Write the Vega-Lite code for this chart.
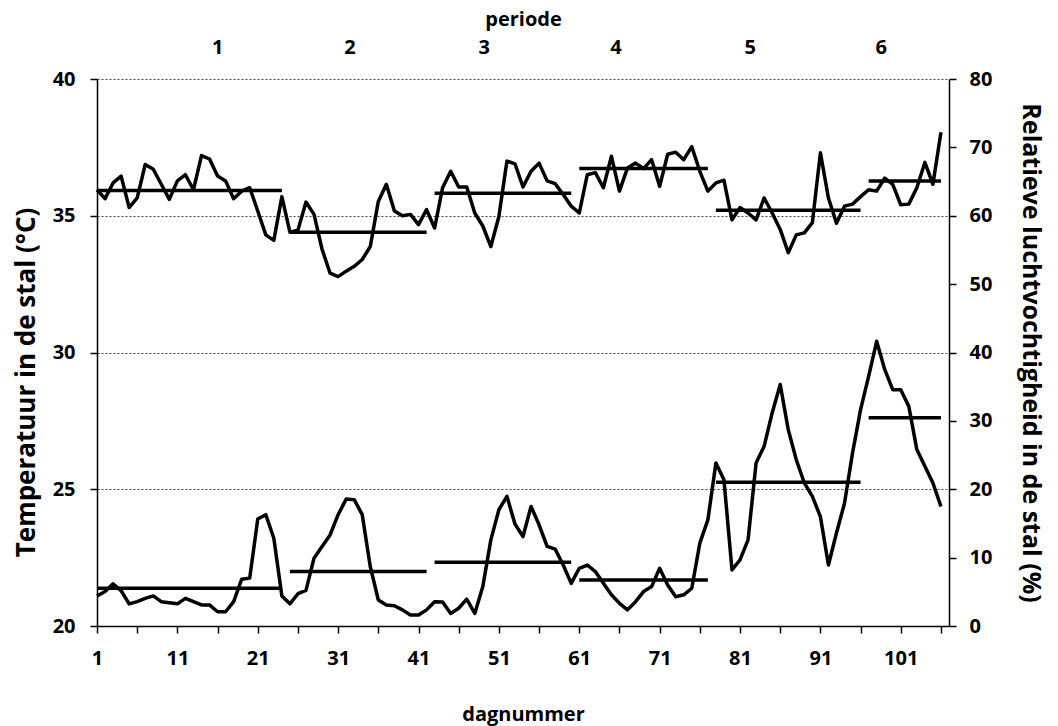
{
  "$schema": "https://vega.github.io/schema/vega-lite/v6.json",
  "width": 852,
  "height": 547,
  "autosize": {"type": "none"},
  "padding": {"left": 97, "top": 79, "right": 109, "bottom": 100},
  "background": "white",
  "config": {
    "view": {"stroke": null},
    "font": "Open Sans",
    "axis": {
      "labelFont": "Open Sans",
      "labelFontSize": 20,
      "labelFontWeight": 700,
      "labelColor": "#000",
      "titleFont": "Open Sans",
      "titleFontSize": 20,
      "titleFontWeight": 700,
      "titleColor": "#000",
      "domainColor": "#000",
      "domainWidth": 1.5,
      "tickColor": "#000",
      "tickWidth": 1.5
    }
  },
  "datasets": {
    "daily": [
      {"dag": 1, "temperatuur": 21.10, "rv": 63.8},
      {"dag": 2, "temperatuur": 21.26, "rv": 62.5},
      {"dag": 3, "temperatuur": 21.54, "rv": 64.8},
      {"dag": 4, "temperatuur": 21.29, "rv": 65.8},
      {"dag": 5, "temperatuur": 20.81, "rv": 61.2},
      {"dag": 6, "temperatuur": 20.89, "rv": 62.6},
      {"dag": 7, "temperatuur": 21.01, "rv": 67.5},
      {"dag": 8, "temperatuur": 21.10, "rv": 66.8},
      {"dag": 9, "temperatuur": 20.89, "rv": 64.6},
      {"dag": 10, "temperatuur": 20.85, "rv": 62.4},
      {"dag": 11, "temperatuur": 20.81, "rv": 65.1},
      {"dag": 12, "temperatuur": 21.01, "rv": 66.0},
      {"dag": 13, "temperatuur": 20.89, "rv": 63.8},
      {"dag": 14, "temperatuur": 20.77, "rv": 68.8},
      {"dag": 15, "temperatuur": 20.77, "rv": 68.3},
      {"dag": 16, "temperatuur": 20.52, "rv": 65.8},
      {"dag": 17, "temperatuur": 20.52, "rv": 65.1},
      {"dag": 18, "temperatuur": 20.89, "rv": 62.5},
      {"dag": 19, "temperatuur": 21.71, "rv": 63.6},
      {"dag": 20, "temperatuur": 21.75, "rv": 64.1},
      {"dag": 21, "temperatuur": 23.91, "rv": 60.7},
      {"dag": 22, "temperatuur": 24.07, "rv": 57.2},
      {"dag": 23, "temperatuur": 23.21, "rv": 56.4},
      {"dag": 24, "temperatuur": 21.10, "rv": 62.8},
      {"dag": 25, "temperatuur": 20.81, "rv": 57.6},
      {"dag": 26, "temperatuur": 21.18, "rv": 57.9},
      {"dag": 27, "temperatuur": 21.30, "rv": 62.0},
      {"dag": 28, "temperatuur": 22.48, "rv": 60.2},
      {"dag": 29, "temperatuur": 22.91, "rv": 55.1},
      {"dag": 30, "temperatuur": 23.33, "rv": 51.6},
      {"dag": 31, "temperatuur": 24.07, "rv": 51.1},
      {"dag": 32, "temperatuur": 24.64, "rv": 51.9},
      {"dag": 33, "temperatuur": 24.62, "rv": 52.6},
      {"dag": 34, "temperatuur": 24.07, "rv": 53.6},
      {"dag": 35, "temperatuur": 22.17, "rv": 55.5},
      {"dag": 36, "temperatuur": 20.95, "rv": 62.1},
      {"dag": 37, "temperatuur": 20.77, "rv": 64.6},
      {"dag": 38, "temperatuur": 20.74, "rv": 60.7},
      {"dag": 39, "temperatuur": 20.59, "rv": 60.0},
      {"dag": 40, "temperatuur": 20.40, "rv": 60.2},
      {"dag": 41, "temperatuur": 20.40, "rv": 58.7},
      {"dag": 42, "temperatuur": 20.59, "rv": 60.9},
      {"dag": 43, "temperatuur": 20.89, "rv": 58.2},
      {"dag": 44, "temperatuur": 20.88, "rv": 64.1},
      {"dag": 45, "temperatuur": 20.46, "rv": 66.5},
      {"dag": 46, "temperatuur": 20.65, "rv": 64.2},
      {"dag": 47, "temperatuur": 20.98, "rv": 64.2},
      {"dag": 48, "temperatuur": 20.46, "rv": 60.4},
      {"dag": 49, "temperatuur": 21.44, "rv": 58.5},
      {"dag": 50, "temperatuur": 23.15, "rv": 55.5},
      {"dag": 51, "temperatuur": 24.25, "rv": 59.9},
      {"dag": 52, "temperatuur": 24.74, "rv": 68.0},
      {"dag": 53, "temperatuur": 23.73, "rv": 67.6},
      {"dag": 54, "temperatuur": 23.27, "rv": 64.2},
      {"dag": 55, "temperatuur": 24.37, "rv": 66.5},
      {"dag": 56, "temperatuur": 23.70, "rv": 67.7},
      {"dag": 57, "temperatuur": 22.91, "rv": 65.1},
      {"dag": 58, "temperatuur": 22.81, "rv": 64.7},
      {"dag": 59, "temperatuur": 22.23, "rv": 63.1},
      {"dag": 60, "temperatuur": 21.56, "rv": 61.4},
      {"dag": 61, "temperatuur": 22.11, "rv": 60.4},
      {"dag": 62, "temperatuur": 22.23, "rv": 66.0},
      {"dag": 63, "temperatuur": 21.99, "rv": 66.3},
      {"dag": 64, "temperatuur": 21.56, "rv": 64.1},
      {"dag": 65, "temperatuur": 21.14, "rv": 68.7},
      {"dag": 66, "temperatuur": 20.83, "rv": 63.6},
      {"dag": 67, "temperatuur": 20.59, "rv": 67.0},
      {"dag": 68, "temperatuur": 20.89, "rv": 67.7},
      {"dag": 69, "temperatuur": 21.26, "rv": 66.9},
      {"dag": 70, "temperatuur": 21.44, "rv": 68.2},
      {"dag": 71, "temperatuur": 22.11, "rv": 64.3},
      {"dag": 72, "temperatuur": 21.50, "rv": 69.0},
      {"dag": 73, "temperatuur": 21.07, "rv": 69.3},
      {"dag": 74, "temperatuur": 21.14, "rv": 68.2},
      {"dag": 75, "temperatuur": 21.38, "rv": 70.1},
      {"dag": 76, "temperatuur": 23.03, "rv": 66.5},
      {"dag": 77, "temperatuur": 23.88, "rv": 63.6},
      {"dag": 78, "temperatuur": 25.96, "rv": 64.8},
      {"dag": 79, "temperatuur": 25.35, "rv": 65.2},
      {"dag": 80, "temperatuur": 22.05, "rv": 59.4},
      {"dag": 81, "temperatuur": 22.42, "rv": 61.2},
      {"dag": 82, "temperatuur": 23.15, "rv": 60.4},
      {"dag": 83, "temperatuur": 25.96, "rv": 59.4},
      {"dag": 84, "temperatuur": 26.57, "rv": 62.6},
      {"dag": 85, "temperatuur": 27.79, "rv": 60.4},
      {"dag": 86, "temperatuur": 28.83, "rv": 58.0},
      {"dag": 87, "temperatuur": 27.18, "rv": 54.6},
      {"dag": 88, "temperatuur": 26.08, "rv": 57.2},
      {"dag": 89, "temperatuur": 25.23, "rv": 57.5},
      {"dag": 90, "temperatuur": 24.74, "rv": 59.0},
      {"dag": 91, "temperatuur": 24.00, "rv": 69.2},
      {"dag": 92, "temperatuur": 22.23, "rv": 62.6},
      {"dag": 93, "temperatuur": 23.40, "rv": 58.9},
      {"dag": 94, "temperatuur": 24.49, "rv": 61.4},
      {"dag": 95, "temperatuur": 26.33, "rv": 61.7},
      {"dag": 96, "temperatuur": 27.91, "rv": 62.8},
      {"dag": 97, "temperatuur": 29.13, "rv": 63.8},
      {"dag": 98, "temperatuur": 30.41, "rv": 63.6},
      {"dag": 99, "temperatuur": 29.38, "rv": 65.5},
      {"dag": 100, "temperatuur": 28.64, "rv": 64.6},
      {"dag": 101, "temperatuur": 28.64, "rv": 61.6},
      {"dag": 102, "temperatuur": 28.03, "rv": 61.7},
      {"dag": 103, "temperatuur": 26.45, "rv": 64.1},
      {"dag": 104, "temperatuur": 25.84, "rv": 67.8},
      {"dag": 105, "temperatuur": 25.23, "rv": 64.6},
      {"dag": 106, "temperatuur": 24.37, "rv": 72.2}
    ],
    "perioden": [
      {"periode": 1, "start": 1, "eind": 24, "temperatuur": 21.38, "rv": 63.7},
      {"periode": 2, "start": 25, "eind": 42, "temperatuur": 21.99, "rv": 57.6},
      {"periode": 3, "start": 43, "eind": 60, "temperatuur": 22.33, "rv": 63.3},
      {"periode": 4, "start": 61, "eind": 77, "temperatuur": 21.68, "rv": 66.9},
      {"periode": 5, "start": 78, "eind": 96, "temperatuur": 25.26, "rv": 60.8},
      {"periode": 6, "start": 97, "eind": 106, "temperatuur": 27.61, "rv": 65.1}
    ]
  },
  "layer": [
    {
      "data": {"name": "daily"},
      "mark": {"type": "line", "color": "#000", "strokeWidth": 3.5, "strokeJoin": "round"},
      "encoding": {
        "x": {
          "field": "dag", "type": "quantitative",
          "scale": {"domain": [1, 107], "nice": false, "zero": false},
          "axis": {
            "orient": "bottom", "title": "dagnummer",
            "values": [1, 6, 11, 16, 21, 26, 31, 36, 41, 46, 51, 56, 61, 66, 71, 76, 81, 86, 91, 96, 101, 106],
            "labelExpr": "(datum.value - 1) % 10 == 0 ? datum.label : ''",
            "grid": false, "tickSize": 7, "labelPadding": 15, "titlePadding": 36,
            "labelFlush": false, "labelOverlap": false
          }
        },
        "y": {
          "field": "temperatuur", "type": "quantitative",
          "scale": {"domain": [20, 40], "nice": false, "zero": false},
          "axis": {
            "orient": "left", "title": "Temperatuur in de stal  (°C)",
            "titleFontSize": 26, "titleY": 303,
            "values": [20, 25, 30, 35, 40],
            "grid": true, "gridDash": [2, 2], "gridColor": "#444", "gridWidth": 1,
            "tickSize": 7, "labelPadding": 15, "titlePadding": 13
          }
        }
      }
    },
    {
      "data": {"name": "perioden"},
      "mark": {"type": "rule", "color": "#000", "strokeWidth": 3.5},
      "encoding": {
        "x": {
          "field": "start", "type": "quantitative",
          "scale": {"domain": [1, 107], "nice": false, "zero": false},
          "axis": {
            "orient": "top", "title": "periode",
            "values": [15.95, 32.4, 49.1, 65.5, 82.2, 98.5],
            "labelExpr": "datum.value < 24 ? '1' : datum.value < 40 ? '2' : datum.value < 57 ? '3' : datum.value < 74 ? '4' : datum.value < 90 ? '5' : '6'",
            "domain": false, "ticks": false, "tickSize": 0, "grid": false,
            "labelPadding": 22, "titlePadding": 8, "labelFlush": false
          }
        },
        "x2": {"field": "eind"},
        "y": {
          "field": "temperatuur", "type": "quantitative",
          "scale": {"domain": [20, 40], "nice": false, "zero": false},
          "axis": null
        }
      }
    },
    {
      "data": {"name": "daily"},
      "mark": {"type": "line", "color": "#000", "strokeWidth": 3.5, "strokeJoin": "round"},
      "encoding": {
        "x": {
          "field": "dag", "type": "quantitative",
          "scale": {"domain": [1, 107], "nice": false, "zero": false},
          "axis": null
        },
        "y": {
          "field": "rv", "type": "quantitative",
          "scale": {"domain": [0, 80], "nice": false, "zero": false},
          "axis": {
            "orient": "right", "title": "Relatieve luchtvochtigheid in de stal (%)",
            "titleFontSize": 25,
            "values": [0, 10, 20, 30, 40, 50, 60, 70, 80],
            "grid": false, "tickSize": 7, "labelPadding": 13, "titlePadding": 26
          }
        }
      }
    },
    {
      "data": {"name": "perioden"},
      "mark": {"type": "rule", "color": "#000", "strokeWidth": 3.5},
      "encoding": {
        "x": {
          "field": "start", "type": "quantitative",
          "scale": {"domain": [1, 107], "nice": false, "zero": false},
          "axis": null
        },
        "x2": {"field": "eind"},
        "y": {
          "field": "rv", "type": "quantitative",
          "scale": {"domain": [0, 80], "nice": false, "zero": false},
          "axis": null
        }
      }
    }
  ],
  "resolve": {
    "scale": {"y": "independent"},
    "axis": {"x": "independent", "y": "independent"}
  }
}
